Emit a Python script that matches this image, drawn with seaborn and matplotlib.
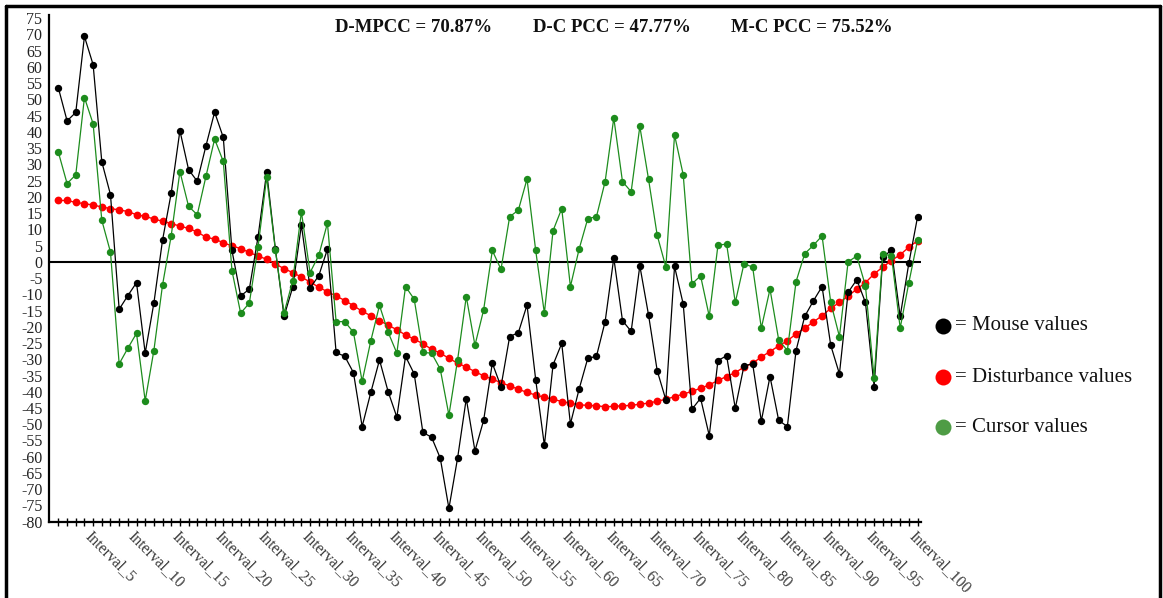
import numpy as np
import pandas as pd
import matplotlib
matplotlib.use("Agg")
import matplotlib.pyplot as plt
from matplotlib.lines import Line2D
import seaborn as sns

# Per-interval values for the three tracked signals
intervals = list(range(1, 101))

mouse = [53.5, 43.4, 46.0, 69.4, 60.7, 30.8, 20.7, -14.6, -10.4, -6.4,
         -28.1, -12.7, 6.7, 21.2, 40.4, 28.4, 24.8, 35.7, 46.1, 38.3,
         3.5, -10.5, -8.4, 7.6, 27.7, 4.0, -16.8, -7.8, 11.3, -8.0,
         -4.3, 3.9, -27.9, -29.1, -34.1, -50.7, -40.2, -30.2, -40.0, -47.8,
         -29.1, -34.5, -52.5, -54.0, -60.4, -75.9, -60.4, -42.1, -58.2, -48.8,
         -31.2, -38.4, -23.0, -21.8, -13.3, -36.3, -56.5, -31.7, -25.1, -49.9,
         -39.2, -29.7, -29.1, -18.4, 1.2, -18.1, -21.4, -1.2, -16.3, -33.5,
         -42.5, -1.4, -13.0, -45.4, -42.0, -53.5, -30.4, -28.9, -45.1, -32.0,
         -31.4, -49.0, -35.3, -48.8, -50.7, -27.3, -16.8, -12.0, -7.6, -25.7,
         -34.5, -9.4, -5.5, -12.5, -38.4, 1.6, 3.5, -16.8, -0.4, 13.8]

cursor = [33.7, 24.1, 26.8, 50.6, 42.5, 12.8, 3.0, -31.4, -26.6, -22.0,
          -42.8, -27.3, -7.1, 8.1, 27.8, 17.1, 14.5, 26.3, 37.8, 30.9,
          -2.7, -15.8, -12.7, 4.5, 26.1, 3.7, -15.8, -5.8, 15.4, -3.3,
          2.0, 11.9, -18.4, -18.4, -21.7, -36.8, -24.3, -13.4, -21.7, -28.1,
          -7.6, -11.5, -27.9, -28.1, -33.0, -47.2, -30.2, -10.7, -25.7, -14.8,
          3.5, -2.3, 13.9, 15.9, 25.5, 3.5, -15.8, 9.6, 16.4, -7.6,
          3.9, 13.3, 13.9, 24.7, 44.3, 24.7, 21.6, 41.7, 25.5, 8.2,
          -1.6, 39.1, 26.8, -6.8, -4.3, -16.8, 5.1, 5.5, -12.5, -0.6,
          -1.6, -20.4, -8.4, -24.0, -27.3, -6.1, 2.5, 5.1, 8.0, -12.5,
          -23.0, 0.0, 1.8, -7.4, -35.8, 2.5, 1.8, -20.4, -6.4, 6.6]

disturbance = [18.9, 18.9, 18.3, 17.9, 17.5, 16.9, 16.4, 16.0, 15.5, 14.5,
               14.0, 13.2, 12.5, 11.8, 11.0, 10.3, 9.2, 7.6, 7.0, 5.9,
               4.9, 4.1, 2.9, 1.8, 0.8, -0.6, -2.1, -3.3, -4.7, -6.2,
               -7.8, -9.2, -10.5, -11.9, -13.5, -15.2, -16.6, -18.1, -19.5, -20.9,
               -22.5, -23.8, -25.2, -26.9, -28.1, -29.7, -31.2, -32.4, -33.8, -35.1,
               -36.1, -37.2, -38.2, -39.2, -40.2, -41.0, -41.7, -42.3, -43.0, -43.5,
               -44.0, -44.2, -44.3, -44.6, -44.5, -44.3, -44.2, -43.8, -43.5, -42.9,
               -42.3, -41.5, -40.7, -39.9, -38.9, -37.9, -36.5, -35.3, -34.1, -32.4,
               -31.2, -29.3, -27.6, -25.9, -24.3, -22.2, -20.4, -18.5, -16.6, -14.3,
               -12.5, -10.5, -8.4, -6.4, -3.7, -1.6, 0.4, 2.2, 4.5, 6.5]

pcc_labels = ["D-MPCC = 70.87%", "D-C PCC = 47.77%", "M-C PCC = 75.52%"]
legend_labels = ["= Mouse values", "= Disturbance values", "= Cursor values"]
y_ticks = list(range(-80, 80, 5))

sns.set_style("white")
plt.rcParams["font.family"] = ["Liberation Serif", "DejaVu Serif"]

df = pd.DataFrame({"interval": intervals, "mouse": mouse,
                   "disturbance": disturbance, "cursor": cursor})

fig = plt.figure(figsize=(11.63, 5.98), dpi=100)
ax = fig.add_axes([49.3 / 1163, 1 - 521.7 / 598, (921 - 49.3) / 1163, 506.7 / 598])

red = "#ff0000"
green = "#1d8c1d"
green_legend = "#4e9c45"

sns.lineplot(data=df, x="interval", y="disturbance", ax=ax, color=red,
             linewidth=1.0, marker="o", markersize=5.6, markeredgewidth=0,
             zorder=3)
sns.lineplot(data=df, x="interval", y="mouse", ax=ax, color="black",
             linewidth=0.9, marker="o", markersize=5.3, markeredgewidth=0,
             zorder=4)
sns.lineplot(data=df, x="interval", y="cursor", ax=ax, color=green,
             linewidth=0.9, marker="o", markersize=5.3, markeredgewidth=0,
             zorder=5)

ax.axhline(0, color="black", linewidth=1.5, zorder=2)

ax.set_xlim(-0.05, 100.4)
ax.set_ylim(-80, 76)
ax.set_xlabel("")
ax.set_ylabel("")

# y axis: labels every 5, no tick marks
ax.set_yticks(y_ticks)
ax.set_yticklabels([str(v) for v in y_ticks], fontsize=11.5, color="#222222")
ax.tick_params(axis="y", length=0, pad=5)

# x axis: a crossing tick for every interval, labels on every fifth
ax.set_xticks(intervals)
ax.set_xticklabels([f"Interval_{i}" if i % 5 == 0 else "" for i in intervals],
                   rotation=-45, ha="left", va="top", rotation_mode="anchor",
                   fontsize=11.3, color="#3a3a3a")
ax.tick_params(axis="x", direction="inout", length=6, width=1.0,
               color="black", pad=1.5, bottom=True)

for side in ("top", "right"):
    ax.spines[side].set_visible(False)
for side in ("left", "bottom"):
    ax.spines[side].set_color("black")
    ax.spines[side].set_linewidth(1.6)

# Correlation summary across the top
for label, xc in zip(pcc_labels, [414, 612, 812]):
    fig.text(xc / 1163, 1 - 28 / 598, label, ha="center", va="center",
             fontsize=13.5, fontweight="bold", color="#111111")

# Hand-placed legend to the right of the plot
for label, col, yc in zip(legend_labels, ["black", red, green_legend],
                          [326, 377, 427]):
    yf = 1 - yc / 598
    fig.add_artist(Line2D([943 / 1163], [yf], marker="o", markersize=11.5,
                          color=col, markeredgewidth=0, linestyle="none",
                          transform=fig.transFigure))
    fig.text(955 / 1163, yf, label, ha="left", va="center",
             fontsize=15, color="#111111")

# Frame around the figure
frame_kw = dict(color="black", linewidth=2.5, transform=fig.transFigure)
fig.add_artist(Line2D([6 / 1163, 6 / 1163], [0, 1 - 5.5 / 598], **frame_kw))
fig.add_artist(Line2D([6 / 1163, 1160 / 1163], [1 - 5.5 / 598, 1 - 5.5 / 598], **frame_kw))
fig.add_artist(Line2D([1160 / 1163, 1160 / 1163], [0, 1 - 5.5 / 598], **frame_kw))

fig.savefig("out.png", dpi=100, facecolor="white")
